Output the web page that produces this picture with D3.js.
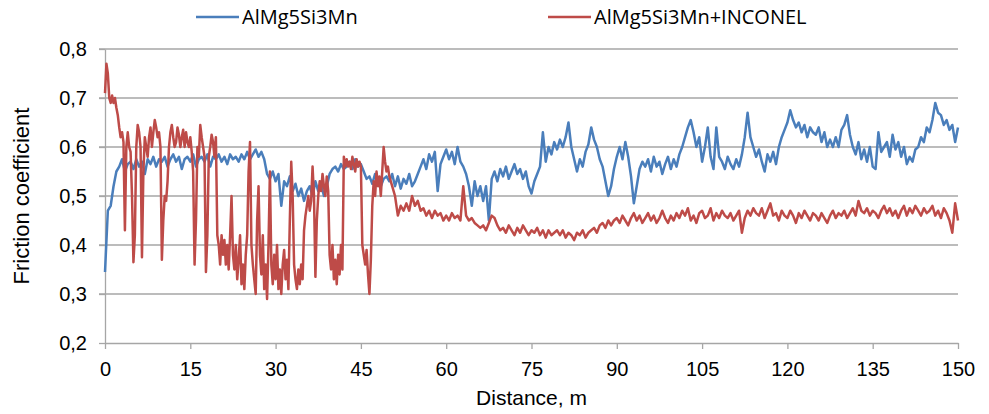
<!DOCTYPE html>
<html>
<head>
<meta charset="utf-8">
<script src="https://cdn.jsdelivr.net/npm/d3@7"></script>
<style>
  body { margin: 0; background: #fff; }
  svg { display: block; }
</style>
</head>
<body>
<div id="chart"></div>
<script>
const seriesNames = ["AlMg5Si3Mn", "AlMg5Si3Mn+INCONEL"];
const xTicks = [0, 15, 30, 45, 60, 75, 90, 105, 120, 135, 150];
const yTicks = [0.2, 0.3, 0.4, 0.5, 0.6, 0.7, 0.8];

// AlMg5Si3Mn, read every 0.5 m from 0 to 150
const BLUE_STEP = 0.5;
const blueValues = [
  0.345, 0.47, 0.48, 0.52, 0.55, 0.56, 0.575, 0.55, 0.565, 0.57,
  0.555, 0.575, 0.56, 0.57, 0.545, 0.575, 0.565, 0.58, 0.56, 0.575,
  0.57, 0.58, 0.56, 0.575, 0.585, 0.57, 0.58, 0.555, 0.575, 0.58,
  0.57, 0.585, 0.56, 0.575, 0.58, 0.57, 0.585, 0.56, 0.58, 0.575,
  0.585, 0.57, 0.58, 0.565, 0.585, 0.575, 0.58, 0.57, 0.585, 0.575,
  0.59, 0.575, 0.585, 0.595, 0.58, 0.59, 0.575, 0.545, 0.535, 0.55,
  0.53, 0.545, 0.48, 0.53, 0.52, 0.54, 0.51, 0.525, 0.5, 0.515,
  0.49, 0.51, 0.52, 0.5, 0.53, 0.51, 0.525, 0.5, 0.52, 0.545,
  0.555, 0.56, 0.55, 0.565, 0.555, 0.56, 0.57, 0.555, 0.575, 0.56,
  0.565, 0.55, 0.535, 0.54, 0.525, 0.545, 0.53, 0.52, 0.535, 0.54,
  0.53, 0.545, 0.52, 0.54, 0.515, 0.535, 0.525, 0.545, 0.52, 0.53,
  0.545, 0.56, 0.575, 0.555, 0.585, 0.57, 0.59, 0.51, 0.565, 0.58,
  0.595, 0.575, 0.59, 0.565, 0.6, 0.57, 0.56, 0.545, 0.52, 0.48,
  0.53, 0.5, 0.52, 0.49, 0.52, 0.45, 0.535, 0.55, 0.53, 0.555,
  0.54, 0.56, 0.535, 0.55, 0.565, 0.545, 0.555, 0.535, 0.55, 0.52,
  0.505, 0.53, 0.545, 0.56, 0.63, 0.57, 0.6, 0.585, 0.61, 0.595,
  0.615, 0.6, 0.62, 0.65, 0.6, 0.575, 0.55, 0.575, 0.56, 0.59,
  0.605, 0.64, 0.615, 0.6, 0.575, 0.56, 0.53, 0.5, 0.52, 0.555,
  0.58, 0.6, 0.575, 0.61, 0.58, 0.54, 0.485, 0.52, 0.555, 0.57,
  0.56, 0.575, 0.55, 0.58, 0.56, 0.57, 0.545, 0.565, 0.58, 0.555,
  0.575, 0.56, 0.585, 0.6, 0.62, 0.64, 0.655, 0.63, 0.6, 0.62,
  0.57, 0.6, 0.64, 0.58, 0.555, 0.64, 0.58, 0.57, 0.555, 0.58,
  0.565, 0.555, 0.575, 0.56, 0.585, 0.62, 0.67, 0.62, 0.6, 0.58,
  0.595, 0.57, 0.55, 0.585, 0.57, 0.59, 0.565, 0.6, 0.62, 0.635,
  0.65, 0.675, 0.655, 0.64, 0.65, 0.63, 0.645, 0.62, 0.64, 0.63,
  0.625, 0.64, 0.61, 0.63, 0.6, 0.615, 0.6, 0.62, 0.6, 0.635,
  0.645, 0.665, 0.625, 0.6, 0.585, 0.61, 0.575, 0.595, 0.57, 0.6,
  0.56, 0.555, 0.63, 0.59, 0.6, 0.61, 0.58, 0.625, 0.595, 0.61,
  0.58, 0.6, 0.565, 0.58, 0.57, 0.595, 0.6, 0.62, 0.61, 0.64,
  0.63, 0.655, 0.69, 0.67, 0.665, 0.645, 0.655, 0.635, 0.645, 0.61,
  0.64
];

// AlMg5Si3Mn+INCONEL, read every 0.25 m from 0 to 49.75 (the unsteady part)
const RED_EARLY_STEP = 0.25;
const redEarly = [
  0.71, 0.77, 0.75, 0.7, 0.69, 0.705, 0.69, 0.7, 0.68, 0.665,
  0.64, 0.62, 0.63, 0.61, 0.43, 0.6, 0.63, 0.6, 0.59, 0.5,
  0.365, 0.42, 0.6, 0.645, 0.63, 0.6, 0.375, 0.55, 0.62, 0.6,
  0.58, 0.62, 0.64, 0.6, 0.63, 0.655, 0.64, 0.62, 0.63, 0.6,
  0.37, 0.45, 0.5, 0.49, 0.53, 0.6, 0.63, 0.645, 0.62, 0.6,
  0.61, 0.64, 0.625, 0.6, 0.62, 0.635, 0.6, 0.63, 0.61, 0.6,
  0.62, 0.59, 0.55, 0.36, 0.45, 0.6, 0.58, 0.645, 0.62, 0.6,
  0.58, 0.345, 0.42, 0.58, 0.6, 0.625, 0.61, 0.58, 0.62, 0.42,
  0.4, 0.36, 0.42, 0.38, 0.41, 0.36, 0.4, 0.35, 0.42, 0.5,
  0.38, 0.35, 0.4, 0.33, 0.37, 0.42, 0.32, 0.36, 0.31, 0.38,
  0.42, 0.55, 0.61, 0.4, 0.36, 0.33, 0.3, 0.45, 0.52, 0.38,
  0.34, 0.42, 0.31, 0.36, 0.29, 0.4, 0.55, 0.36, 0.32, 0.38,
  0.33, 0.4, 0.31, 0.35, 0.3, 0.36, 0.39, 0.33, 0.37, 0.31,
  0.45, 0.57, 0.5, 0.36, 0.33, 0.31, 0.35, 0.32, 0.36, 0.33,
  0.43, 0.46, 0.48, 0.5, 0.47, 0.49, 0.56, 0.5, 0.335, 0.45,
  0.5, 0.53, 0.51, 0.545, 0.52, 0.5, 0.54, 0.51, 0.38, 0.35,
  0.4, 0.33, 0.37, 0.32, 0.38, 0.34, 0.4, 0.35, 0.58, 0.56,
  0.575, 0.56, 0.57, 0.555, 0.58, 0.565, 0.55, 0.575, 0.56, 0.57,
  0.56, 0.4, 0.38, 0.36, 0.39, 0.34, 0.3, 0.37, 0.48, 0.53,
  0.5, 0.55, 0.52, 0.54, 0.5, 0.55, 0.6, 0.57, 0.55, 0.56
];

// AlMg5Si3Mn+INCONEL, read every 0.5 m from 50 to 150 (the steady part)
const RED_LATE_START = 50;
const RED_LATE_STEP = 0.5;
const redLate = [
  0.54, 0.52, 0.5, 0.46, 0.48, 0.47, 0.485, 0.47, 0.5, 0.48,
  0.49, 0.47, 0.475, 0.46, 0.47, 0.455, 0.47, 0.46, 0.465, 0.45,
  0.46, 0.45, 0.465, 0.455, 0.46, 0.45, 0.52, 0.46, 0.45, 0.455,
  0.445, 0.44, 0.435, 0.44, 0.43, 0.445, 0.46, 0.455, 0.44, 0.43,
  0.435, 0.425, 0.44, 0.43, 0.42, 0.435, 0.425, 0.44, 0.43, 0.42,
  0.43, 0.425, 0.435, 0.42, 0.43, 0.415, 0.43, 0.42, 0.425, 0.43,
  0.42, 0.43, 0.415, 0.425, 0.42, 0.41, 0.425, 0.42, 0.43, 0.415,
  0.425, 0.43, 0.435, 0.425, 0.44, 0.445, 0.435, 0.45, 0.44, 0.45,
  0.455, 0.445, 0.46, 0.45, 0.44, 0.455, 0.465, 0.45, 0.46, 0.445,
  0.455, 0.465, 0.45, 0.46, 0.445, 0.455, 0.47, 0.455, 0.445, 0.46,
  0.45, 0.465, 0.455, 0.47, 0.46, 0.475, 0.45, 0.46, 0.445, 0.465,
  0.47, 0.455, 0.46, 0.475, 0.45, 0.465, 0.455, 0.47, 0.46, 0.455,
  0.465, 0.45, 0.46, 0.47, 0.425, 0.455, 0.47, 0.46, 0.475, 0.465,
  0.46, 0.475, 0.455, 0.47, 0.485, 0.46, 0.465, 0.45, 0.47, 0.46,
  0.455, 0.47, 0.46, 0.445, 0.465, 0.455, 0.47, 0.46, 0.45, 0.465,
  0.46, 0.45, 0.465, 0.455, 0.445, 0.46, 0.47, 0.455, 0.465, 0.46,
  0.47, 0.455, 0.465, 0.475, 0.46, 0.49, 0.47, 0.465, 0.475, 0.46,
  0.47, 0.465, 0.455, 0.47, 0.48, 0.465, 0.475, 0.46, 0.47, 0.455,
  0.47, 0.48, 0.46, 0.475, 0.465, 0.48, 0.47, 0.46, 0.475, 0.465,
  0.47, 0.48, 0.46, 0.47, 0.455, 0.475, 0.465, 0.45, 0.425, 0.485,
  0.45
];

const colors = ["#4a7ebb", "#be4b48"];

const W = 989, H = 414;
const plot = { left: 105, right: 958, top: 49, bottom: 343 };
const tickFont = '"Liberation Sans", Arial, sans-serif';
const gridColor = "#a6a6a6";

const svg = d3.select("#chart")
  .append("svg")
  .attr("width", W)
  .attr("height", H);

const x = d3.scaleLinear().domain([0, 150]).range([plot.left, plot.right]);
const y = d3.scaleLinear().domain([0.2, 0.8]).range([plot.bottom, plot.top]);

// horizontal gridlines (they also run through the tick marks)
svg.append("g")
  .selectAll("line")
  .data(yTicks.slice(1))
  .enter()
  .append("line")
  .attr("x1", plot.left - 6)
  .attr("x2", plot.right)
  .attr("y1", d => y(d))
  .attr("y2", d => y(d))
  .attr("stroke", gridColor)
  .attr("stroke-width", 1.3);

// y axis
const yAxis = svg.append("g")
  .attr("transform", `translate(${plot.left},0)`)
  .call(d3.axisLeft(y)
    .tickValues(yTicks)
    .tickSize(6)
    .tickSizeOuter(0)
    .tickPadding(12)
    .tickFormat(d => d.toFixed(1).replace(".", ",")));

// x axis
const xAxis = svg.append("g")
  .attr("transform", `translate(0,${plot.bottom})`)
  .call(d3.axisBottom(x)
    .tickValues(xTicks)
    .tickSize(6)
    .tickSizeOuter(0)
    .tickPadding(13)
    .tickFormat(d3.format("d")));

[xAxis, yAxis].forEach(ax => {
  ax.select(".domain").attr("stroke", gridColor).attr("stroke-width", 1.3);
  ax.selectAll(".tick line").attr("stroke", gridColor).attr("stroke-width", 1.3);
  ax.selectAll(".tick text")
    .style("font-family", tickFont)
    .style("font-size", "20px")
    .attr("fill", "#000");
});

// points as [distance, value]
const bluePoints = blueValues.map((v, i) => [i * BLUE_STEP, v]);
const redPoints = redEarly.map((v, i) => [i * RED_EARLY_STEP, v])
  .concat(redLate.map((v, i) => [RED_LATE_START + i * RED_LATE_STEP, v]));

const line = d3.line()
  .x(d => x(d[0]))
  .y(d => y(d[1]));

// blue first so red sits on top
[bluePoints, redPoints].forEach((pts, k) => {
  svg.append("path")
    .datum(pts)
    .attr("fill", "none")
    .attr("stroke", colors[k])
    .attr("stroke-width", 2.5)
    .attr("stroke-linejoin", "round")
    .attr("d", line);
});

// axis titles
svg.append("text")
  .attr("x", (plot.left + plot.right) / 2)
  .attr("y", 405)
  .attr("text-anchor", "middle")
  .style("font-family", tickFont)
  .style("font-size", "21px")
  .text("Distance, m");

svg.append("text")
  .attr("transform", `translate(29,${(plot.top + plot.bottom) / 2}) rotate(-90)`)
  .attr("text-anchor", "middle")
  .style("font-family", tickFont)
  .style("font-size", "22px")
  .text("Friction coefficient");

// legend
const legendItems = [
  { name: seriesNames[0], color: colors[0], x0: 196 },
  { name: seriesNames[1], color: colors[1], x0: 548 }
];

const legend = svg.append("g");
legendItems.forEach(item => {
  legend.append("line")
    .attr("x1", item.x0)
    .attr("x2", item.x0 + 43)
    .attr("y1", 17)
    .attr("y2", 17)
    .attr("stroke", item.color)
    .attr("stroke-width", 2.5);
  legend.append("text")
    .attr("x", item.x0 + 46)
    .attr("y", 24)
    .style("font-family", '"Open Sans", sans-serif')
    .style("font-size", "20px")
    .text(item.name);
});
</script>
</body>
</html>
